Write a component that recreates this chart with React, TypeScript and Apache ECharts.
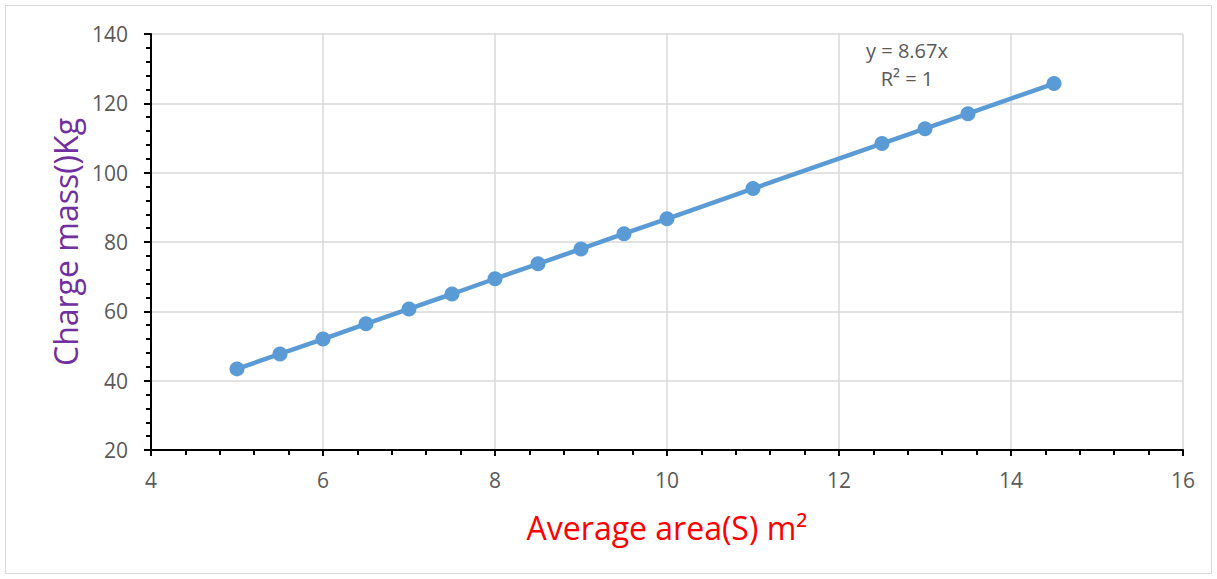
import React, { useEffect, useRef } from "react";
import * as echarts from "echarts";

const areaValues = [5, 5.5, 6, 6.5, 7, 7.5, 8, 8.5, 9, 9.5, 10, 11, 12.5, 13, 13.5, 14.5];
const massValues = [43.4, 47.7, 52.0, 56.4, 60.7, 65.0, 69.4, 73.7, 78.0, 82.4, 86.7, 95.4, 108.4, 112.7, 117.0, 125.7];
const equationLines = ["y = 8.67x", "R² = 1"];
const xAxisTitle = "Average area(S) m²";
const yAxisTitle = "Charge mass()Kg";

export default function App() {
  const ref = useRef<HTMLDivElement>(null);
  useEffect(() => {
    if (!ref.current) return;
    const chart = echarts.init(ref.current, null, { renderer: "svg" });
    const font = "'Open Sans', sans-serif";
    const data = areaValues.map((x, i) => [x, massValues[i]]);
    chart.setOption({
      animation: false,
      backgroundColor: "#ffffff",
      grid: { left: 151, right: 34, top: 34, bottom: 129 },
      xAxis: {
        type: "value",
        min: 4,
        max: 16,
        interval: 2,
        name: xAxisTitle,
        nameLocation: "middle",
        nameGap: 61,
        nameTextStyle: { color: "#FF0000", fontSize: 32, fontFamily: font },
        axisLine: { show: true, onZero: false, lineStyle: { color: "#000", width: 2 } },
        axisTick: { show: true, length: 6, lineStyle: { color: "#000", width: 2 } },
        minorTick: { show: true, splitNumber: 5, length: 5, lineStyle: { color: "#000", width: 2 } },
        axisLabel: { color: "#595959", fontSize: 21, fontFamily: font, margin: 19 },
        splitLine: { show: true, lineStyle: { color: "#D9D9D9", width: 1.5 } },
      },
      yAxis: {
        type: "value",
        min: 20,
        max: 140,
        interval: 20,
        name: yAxisTitle,
        nameLocation: "middle",
        nameGap: 70,
        nameTextStyle: { color: "#7030A0", fontSize: 32, fontFamily: font },
        axisLine: { show: true, onZero: false, lineStyle: { color: "#000", width: 2 } },
        axisTick: { show: true, length: 7, lineStyle: { color: "#000", width: 2 } },
        minorTick: { show: true, splitNumber: 5, length: 5, lineStyle: { color: "#000", width: 2 } },
        axisLabel: { color: "#595959", fontSize: 21, fontFamily: font, margin: 23 },
        splitLine: { show: true, lineStyle: { color: "#D9D9D9", width: 1.5 } },
      },
      graphic: [
        {
          type: "rect",
          shape: { x: 5.5, y: 5.5, width: 1206, height: 568 },
          style: { fill: "none", stroke: "#D9D9D9", lineWidth: 1 },
          silent: true,
        },
        {
          type: "text",
          x: 907,
          y: 64,
          style: {
            text: equationLines.join("\n"),
            fill: "#595959",
            fontSize: 20,
            fontFamily: font,
            align: "center",
            verticalAlign: "middle",
            lineHeight: 28,
          },
        },
      ],
      series: [
        {
          type: "line",
          data,
          symbol: "circle",
          symbolSize: 15,
          lineStyle: { color: "#5B9BD5", width: 4.5 },
          itemStyle: { color: "#5B9BD5" },
        },
      ],
    });
    return () => chart.dispose();
  }, []);
  return (
    <div
      ref={ref}
      style={{ position: "absolute", left: 0, top: 0, width: 1217, height: 579 }}
    />
  );
}
